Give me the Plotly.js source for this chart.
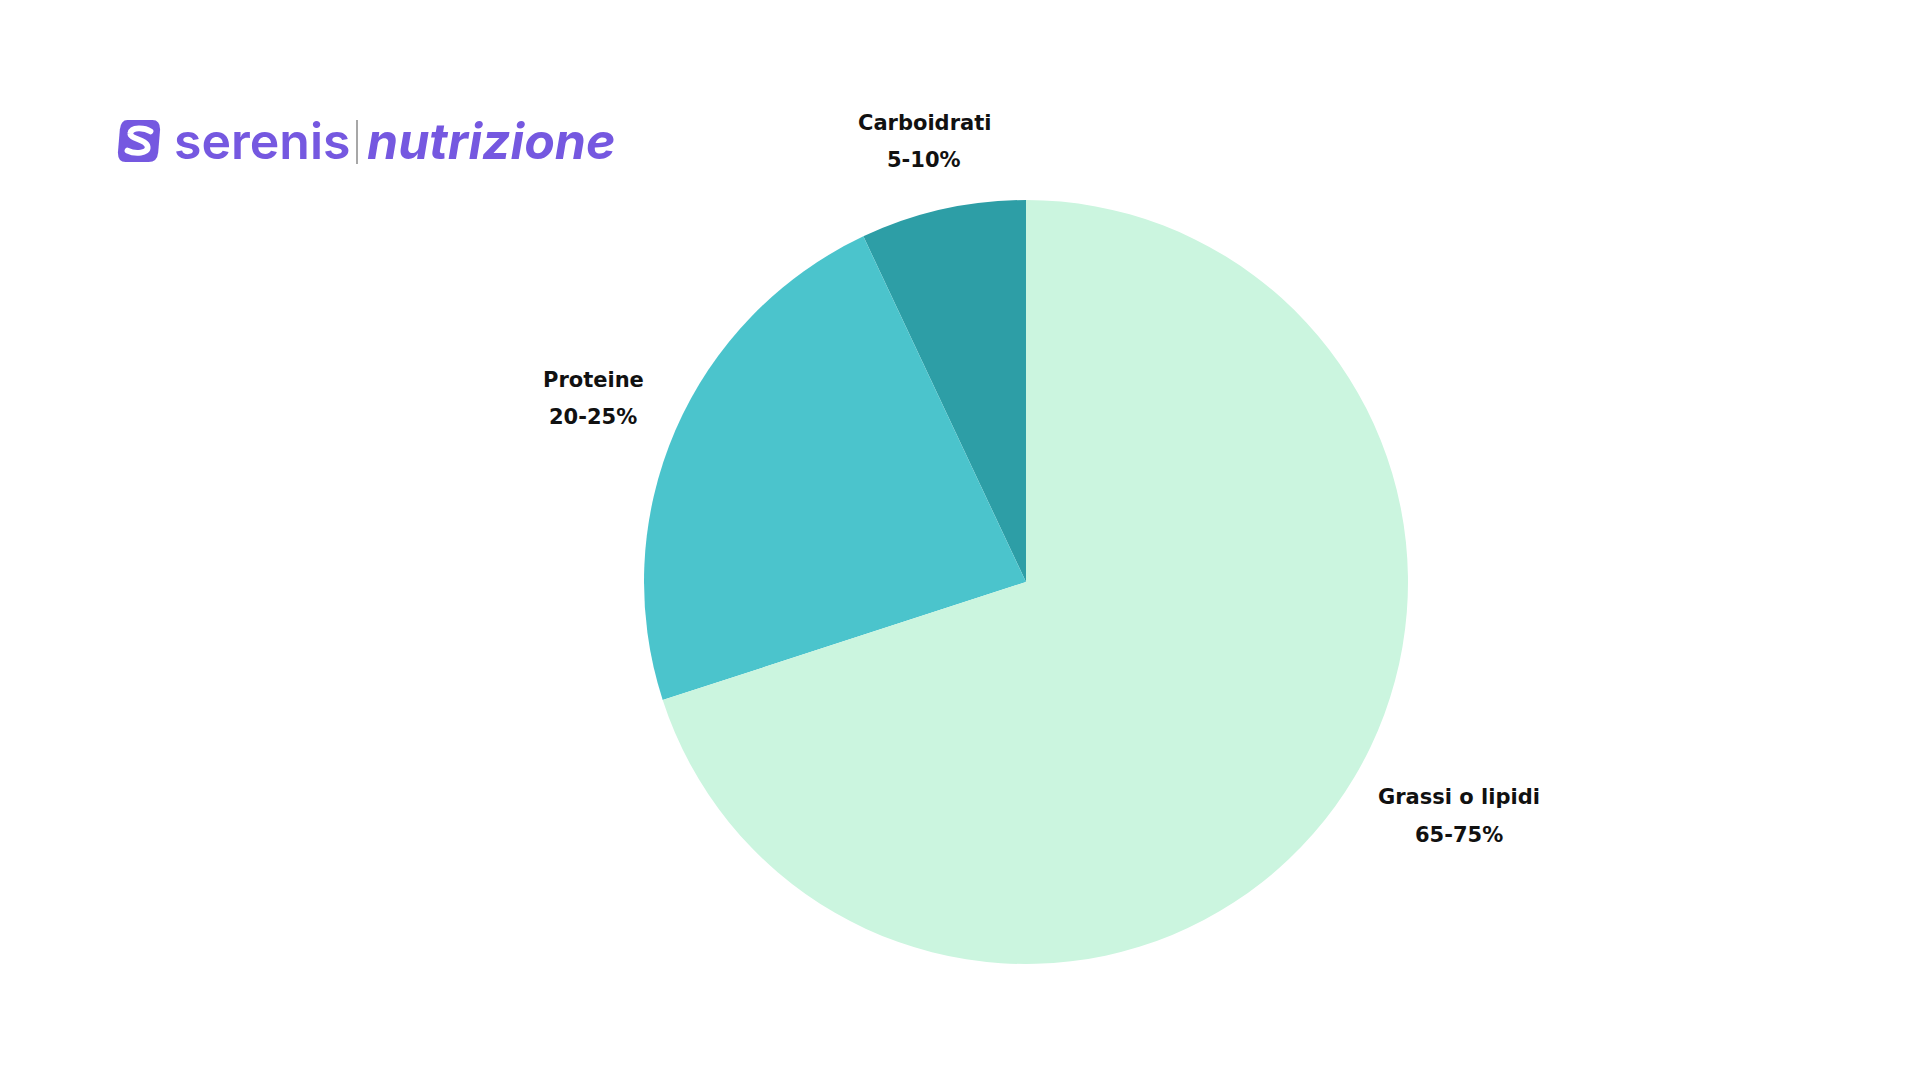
<!DOCTYPE html>
<html>
<head>
<meta charset="utf-8">
<script src="https://cdn.plot.ly/plotly-3.0.1.min.js"></script>
<style>
html,body{margin:0;padding:0;background:#fff;}
#chart{width:1920px;height:1080px;}
</style>
</head>
<body>
<div id="chart"></div>
<script>
// Data
const categories = ["Carboidrati", "Proteine", "Grassi o lipidi"];
const ranges = ["5-10%", "20-25%", "65-75%"];
const values = [7, 23, 70];
const colors = ["#2D9EA6", "#4BC4CC", "#CBF5DF"];

const W = 1920, H = 1080;
const px = x => x / W;
const py = y => 1 - y / H;

// label positions (pixels): [x, y of name line, y of range line]
const labelPos = [[924, 123, 160], [593, 380, 417], [1459, 797, 835]];

const labelFont = {family: "'DejaVu Sans', Verdana, sans-serif", size: 21, color: "#111111"};
const annotations = [];
categories.forEach((c, i) => {
  annotations.push({
    xref: "paper", yref: "paper",
    x: px(labelPos[i][0]), y: py(labelPos[i][1]),
    xanchor: "center", yanchor: "middle",
    text: "<b>" + c + "</b>", showarrow: false, font: labelFont
  });
  annotations.push({
    xref: "paper", yref: "paper",
    x: px(labelPos[i][0]), y: py(labelPos[i][2]),
    xanchor: "center", yanchor: "middle",
    text: "<b>" + ranges[i] + "</b>", showarrow: false, font: labelFont
  });
});

annotations.push({
  xref: "paper", yref: "paper", x: px(172), y: py(141),
  xanchor: "left", yanchor: "middle", showarrow: false,
  text: "serenis",
  font: {family: "Inter, sans-serif", size: 50, color: "#7558E0", weight: 600}
});
annotations.push({
  xref: "paper", yref: "paper", x: px(365), y: py(141),
  xanchor: "left", yanchor: "middle", showarrow: false,
  text: "<i>nutrizione</i>",
  font: {family: "Inter, sans-serif", size: 50, color: "#7558E0", weight: 700}
});

const iconSvg = '<svg xmlns="http://www.w3.org/2000/svg" width="48" height="48" viewBox="0 0 48 48">' +
  '<path d="M12 2 H38 Q46 2 46 12 L44 36 Q43 46 34 46 H10 Q2 46 2 36 L4 12 Q5 2 12 2 Z" fill="#7558E0"/>' +
  '<path d="M36 14 C30 10 16 9 15 16 C14 22 32 22 33 30 C34 37 20 38 12 34" fill="none" stroke="#ffffff" stroke-width="6" stroke-linecap="round"/>' +
  '</svg>';

const total = values.reduce((a, b) => a + b, 0);

const data = [{
  type: "pie",
  labels: categories,
  values: values,
  sort: false,
  direction: "counterclockwise",
  rotation: -360 * values[0] / total,
  marker: {colors: colors, line: {width: 0}},
  textinfo: "none",
  hoverinfo: "none",
  showlegend: false,
  domain: {x: [px(1026 - 382), px(1026 + 382)], y: [py(582 + 382), py(582 - 382)]}
}];

const layout = {
  width: W, height: H,
  margin: {l: 0, r: 0, t: 0, b: 0},
  paper_bgcolor: "#ffffff",
  showlegend: false,
  annotations: annotations,
  shapes: [{
    type: "line", xref: "paper", yref: "paper",
    x0: px(357), x1: px(357), y0: py(120), y1: py(164),
    line: {color: "#8a8a8a", width: 1.5}
  }],
  images: [{
    source: "data:image/svg+xml;base64," + btoa(iconSvg),
    xref: "paper", yref: "paper",
    x: px(116), y: py(118), sizex: px(46), sizey: 46 / H,
    xanchor: "left", yanchor: "top", sizing: "stretch"
  }]
};

Plotly.newPlot("chart", data, layout, {displayModeBar: false, staticPlot: true});
</script>
</body>
</html>
